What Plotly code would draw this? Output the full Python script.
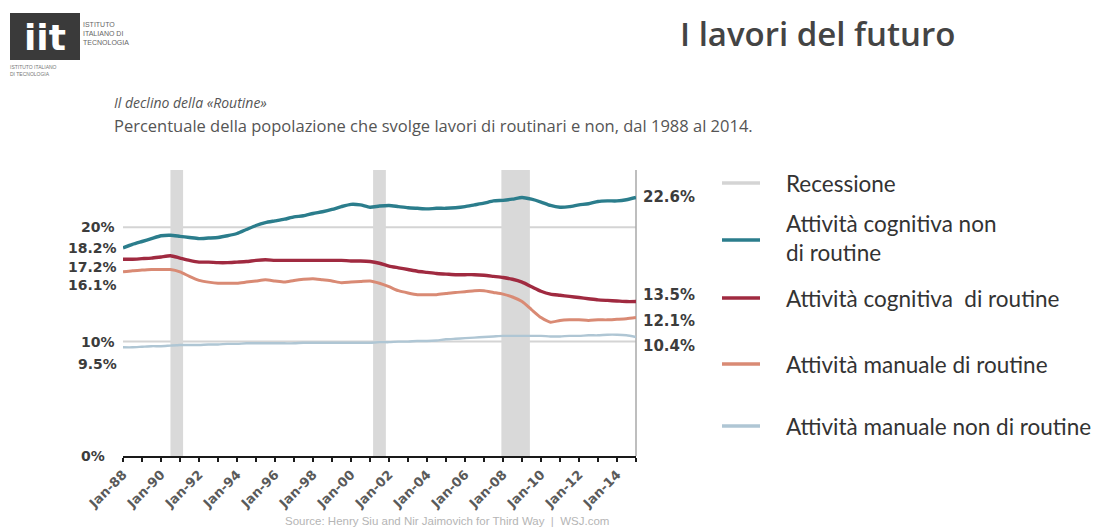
import pandas as pd
import plotly.graph_objects as go

# Half-yearly observations, Jan 1988 - Jan 2015 (percent of population)
dates = pd.date_range("1988-01-01", "2015-01-01", freq="6MS")

cognitiva_non_routine = [
    18.2, 18.5, 18.75, 19.0, 19.25, 19.3, 19.2, 19.1, 19.0, 19.05,
    19.1, 19.25, 19.45, 19.8, 20.15, 20.4, 20.55, 20.7, 20.9, 21.0,
    21.2, 21.35, 21.55, 21.8, 22.0, 21.95, 21.75, 21.85, 21.9, 21.8,
    21.7, 21.65, 21.6, 21.65, 21.65, 21.7, 21.8, 21.95, 22.1, 22.3,
    22.35, 22.45, 22.6, 22.45, 22.2, 21.9, 21.75, 21.8, 21.95, 22.05,
    22.25, 22.3, 22.3, 22.4, 22.6,
]
cognitiva_routine = [
    17.2, 17.2, 17.25, 17.3, 17.4, 17.5, 17.3, 17.1, 16.95, 16.95,
    16.9, 16.9, 16.95, 17.0, 17.1, 17.15, 17.1, 17.1, 17.1, 17.1,
    17.1, 17.1, 17.1, 17.1, 17.05, 17.05, 17.0, 16.85, 16.6, 16.45,
    16.3, 16.15, 16.05, 15.95, 15.9, 15.85, 15.85, 15.85, 15.8, 15.7,
    15.6, 15.45, 15.2, 14.8, 14.4, 14.15, 14.05, 13.95, 13.85, 13.75,
    13.65, 13.6, 13.55, 13.5, 13.5,
]
manuale_routine = [
    16.1, 16.2, 16.25, 16.3, 16.3, 16.3, 16.1, 15.7, 15.35, 15.2,
    15.1, 15.1, 15.1, 15.2, 15.3, 15.4, 15.3, 15.2, 15.35, 15.45,
    15.5, 15.4, 15.3, 15.15, 15.2, 15.25, 15.3, 15.1, 14.8, 14.45,
    14.25, 14.1, 14.1, 14.1, 14.2, 14.3, 14.35, 14.45, 14.45, 14.3,
    14.15, 13.9, 13.5, 12.8, 12.1, 11.7, 11.85, 11.9, 11.9, 11.85,
    11.9, 11.9, 11.95, 12.0, 12.1,
]
manuale_non_routine = [
    9.5, 9.5, 9.55, 9.6, 9.6, 9.65, 9.7, 9.7, 9.7, 9.75,
    9.75, 9.8, 9.8, 9.85, 9.85, 9.85, 9.85, 9.85, 9.85, 9.9,
    9.9, 9.9, 9.9, 9.9, 9.9, 9.9, 9.9, 9.95, 9.95, 10.0,
    10.0, 10.05, 10.05, 10.1, 10.2, 10.25, 10.3, 10.35, 10.4, 10.45,
    10.5, 10.5, 10.5, 10.5, 10.5, 10.45, 10.45, 10.5, 10.5, 10.55,
    10.55, 10.6, 10.6, 10.55, 10.4,
]

recession_start = ["1990-07-01", "2001-03-01", "2007-12-01"]
recession_end = ["1991-03-01", "2001-11-01", "2009-06-01"]

tick_dates = pd.date_range("1988-01-01", "2015-01-01", freq="12MS")
tick_text = [d.strftime("Jan-%y") if (d.year % 2 == 0 and d.year < 2015) else "" for d in tick_dates]

series = [
    ("Attività cognitiva non di routine", cognitiva_non_routine, "#2b7d8c", 3.4),
    ("Attività cognitiva  di routine", cognitiva_routine, "#a02a40", 3.4),
    ("Attività manuale di routine", manuale_routine, "#d98a74", 3.0),
    ("Attività manuale non di routine", manuale_non_routine, "#afc6d4", 2.4),
]

# Pixel geometry of the plotting area
W, H = 1104, 532
L, R, T, B = 123, 636, 170, 456

def px(x):
    return (x - L) / (R - L)

def py(y):
    return (B - y) / (B - T)

fig = go.Figure()

for name, vals, color, width in series:
    fig.add_trace(go.Scatter(
        x=dates, y=vals, mode="lines", name=name,
        line=dict(color=color, width=width, shape="spline", smoothing=0.6),
        showlegend=False, hoverinfo="skip",
    ))

shapes = []
# Recession bands
for s, e in zip(recession_start, recession_end):
    shapes.append(dict(type="rect", xref="x", yref="y", x0=s, x1=e, y0=0, y1=25,
                       fillcolor="#d9d9d9", line=dict(width=0), layer="below"))
# Gridlines at 10% and 20%
for g in [10, 20]:
    shapes.append(dict(type="line", xref="paper", yref="y", x0=0, x1=1, y0=g, y1=g,
                       line=dict(color="#d4d4d4", width=2), layer="below"))
# Right-hand vertical rule
shapes.append(dict(type="line", xref="paper", yref="paper", x0=1, x1=1, y0=0, y1=1,
                   line=dict(color="#a8a8a8", width=1.5), layer="below"))

ann = []
num_font = dict(family="DejaVu Sans", size=14, color="#3c3c3c", weight="bold")
end_font = dict(family="DejaVu Sans", size=15, color="#3c3c3c", weight="bold")

# Axis value labels on the left
for v in [20, 10, 0]:
    ann.append(dict(xref="paper", yref="y", x=0, y=v, text=f"{v}%", showarrow=False,
                    xanchor="left", xshift=-44, font=num_font))
# Starting values of each series
starts = [
    (cognitiva_non_routine[0], 0),
    (cognitiva_routine[0], -8),
    (manuale_routine[0], -13),
    (manuale_non_routine[0], -17),
]
for v, shift in starts:
    ann.append(dict(xref="paper", yref="y", x=0, y=v, text=f"{v:.1f}%", showarrow=False,
                    xanchor="right", xshift=-4, yshift=shift, font=num_font))
# Ending values of each series
ends = [
    (cognitiva_non_routine[-1], 0),
    (cognitiva_routine[-1], 7),
    (manuale_routine[-1], -3),
    (manuale_non_routine[-1], -9),
]
for v, shift in ends:
    ann.append(dict(xref="paper", yref="y", x=1, y=v, text=f"{v:.1f}%", showarrow=False,
                    xanchor="left", xshift=5, yshift=shift, font=end_font))

# Legend drawn beside the chart
legend_items = [
    ("Recessione", "#d4d4d4", 183, 183),
    ("Attività cognitiva non<br>di routine", "#2b7d8c", 240, 238),
    ("Attività cognitiva  di routine", "#a02a40", 298, 298),
    ("Attività manuale di routine", "#d98a74", 364, 364),
    ("Attività manuale non di routine", "#afc6d4", 426, 426),
]
for label, color, sy, ty in legend_items:
    shapes.append(dict(type="line", xref="paper", yref="paper", x0=px(722), x1=px(760),
                       y0=py(sy), y1=py(sy), line=dict(color=color, width=3.5)))
    ann.append(dict(xref="paper", yref="paper", x=px(784), y=py(ty), text=label,
                    showarrow=False, xanchor="left", yanchor="middle", align="left",
                    font=dict(family="Lato", size=22.5, color="#333333")))

# Header texts
ann.append(dict(xref="paper", yref="paper", x=px(678), y=py(33), text="I lavori del futuro",
                showarrow=False, xanchor="left", yanchor="middle",
                font=dict(family="Open Sans", size=33, color="#444444", weight=600)))
ann.append(dict(xref="paper", yref="paper", x=px(112), y=py(102),
                text="<i>Il declino della «Routine»</i>", showarrow=False,
                xanchor="left", yanchor="middle",
                font=dict(family="Open Sans", size=14, color="#555555")))
ann.append(dict(xref="paper", yref="paper", x=px(112), y=py(125),
                text="Percentuale della popolazione che svolge lavori di routinari e non, dal 1988 al 2014.",
                showarrow=False, xanchor="left", yanchor="middle",
                font=dict(family="Open Sans", size=16.5, color="#555555")))
ann.append(dict(xref="paper", yref="paper", x=px(447), y=py(521),
                text="Source: Henry Siu and Nir Jaimovich for Third Way  |  WSJ.com",
                showarrow=False, xanchor="center", yanchor="middle",
                font=dict(family="Liberation Sans", size=11.5, color="#b5b5b5")))

# Institute logo
shapes.append(dict(type="rect", xref="paper", yref="paper", x0=px(10), x1=px(80),
                   y0=py(60), y1=py(13), fillcolor="#3a3a3a", line=dict(width=0)))
ann.append(dict(xref="paper", yref="paper", x=px(45), y=py(37), text="<b>iit</b>",
                showarrow=False, xanchor="center", yanchor="middle",
                font=dict(family="DejaVu Sans", size=36, color="#ffffff")))
ann.append(dict(xref="paper", yref="paper", x=px(81), y=py(34),
                text="ISTITUTO<br>ITALIANO DI<br>TECNOLOGIA", showarrow=False,
                xanchor="left", yanchor="middle", align="left",
                font=dict(family="Liberation Sans", size=7, color="#666666")))
ann.append(dict(xref="paper", yref="paper", x=px(8), y=py(71),
                text="ISTITUTO ITALIANO<br>DI TECNOLOGIA", showarrow=False,
                xanchor="left", yanchor="middle", align="left",
                font=dict(family="Liberation Sans", size=5, color="#777777")))

fig.update_layout(
    width=W, height=H, autosize=False,
    margin=dict(l=L, r=W - R, t=T, b=H - B),
    paper_bgcolor="white", plot_bgcolor="white",
    shapes=shapes, annotations=ann,
    xaxis=dict(
        type="date", range=["1988-01-01", "2015-01-01"],
        tickvals=list(tick_dates), ticktext=tick_text, tickangle=-45,
        showgrid=False, zeroline=False,
        showline=True, linecolor="#1a1a1a", linewidth=2,
        ticks="outside", ticklen=4, tickwidth=2, tickcolor="#1a1a1a",
        tickfont=dict(family="DejaVu Sans", size=13, color="#5a5a5a", weight="bold"),
    ),
    yaxis=dict(range=[0, 25], showgrid=False, zeroline=False, showticklabels=False,
               showline=False),
)

fig.write_html("out.html")
